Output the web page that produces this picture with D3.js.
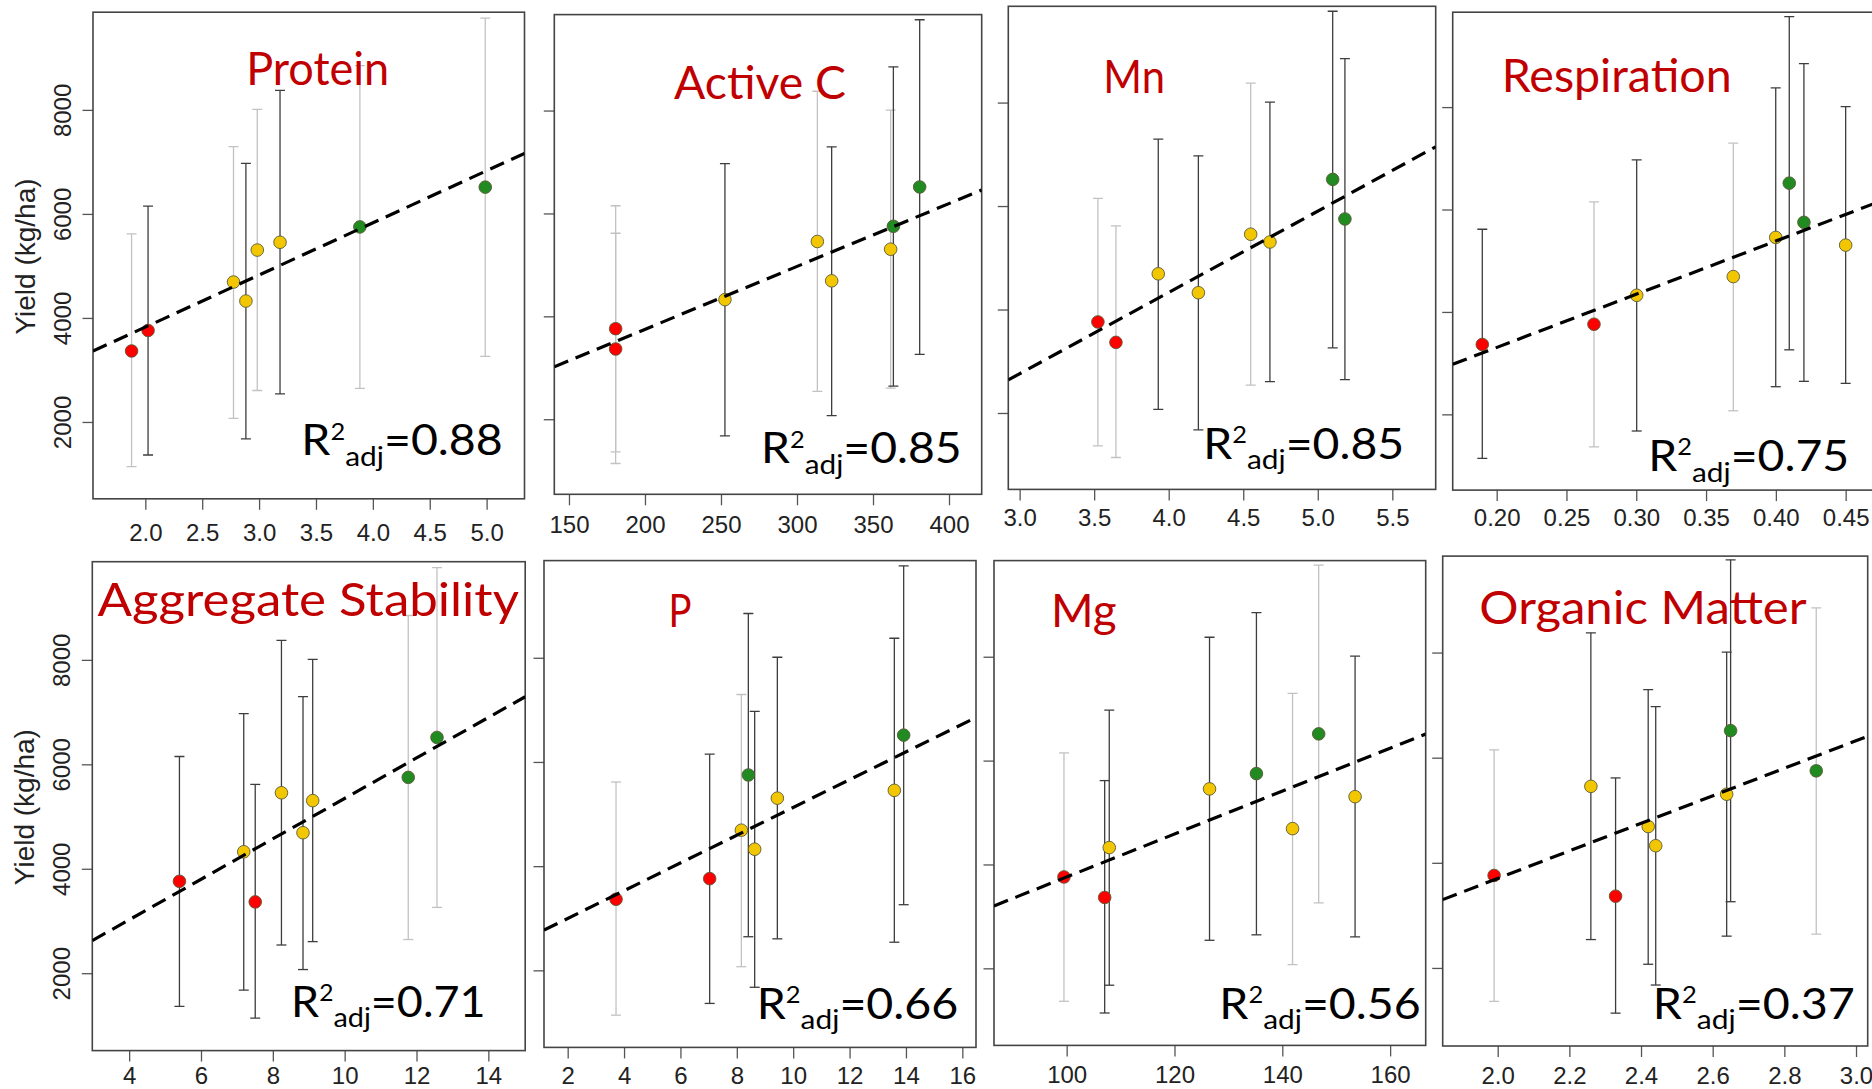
<!DOCTYPE html>
<html><head><meta charset="utf-8">
<script src="https://cdn.jsdelivr.net/npm/d3@7"></script>
<style>html,body{margin:0;padding:0;background:#fff;}svg{display:block;}</style>
</head><body>
<svg id="chart" width="1872" height="1089"></svg>
<script>
// ---------------- DATA ----------------
// eight sites (same yields in every panel): mean yield, lower and upper error bar (kg/ha)
const siteYield = [3365, 3760, 4690, 4325, 5305, 5455, 5750, 6515];
const siteLow   = [1140, 1365, 2070, 1675, 2605, 2540, 2645, 3260];
const siteHigh  = [5615, 6150, 7295, 6970, 8010, 8375, 8850, 9765];
const siteGroup = ["low", "low", "mid", "mid", "mid", "mid", "high", "high"];

const panelTitles = ["Protein", "Active C", "Mn", "Respiration", "Aggregate Stability", "P", "Mg", "Organic Matter"];
const r2Values = ["0.88", "0.85", "0.85", "0.75", "0.71", "0.66", "0.56", "0.37"];

// x value of each site in each panel (site order as above)
const xProtein     = [1.879, 2.024, 2.775, 2.884, 2.984, 3.184, 3.886, 4.988];
const xActiveC     = [180.7, 180.7, 322.8, 252.6, 361.6, 313.4, 363.4, 380.7];
const xMn          = [3.646, 3.525, 3.930, 4.199, 4.679, 4.550, 5.182, 5.100];
const xRespiration = [0.1897, 0.2697, 0.3695, 0.3003, 0.450, 0.3999, 0.4201, 0.4096];
const xAggregate   = [7.51, 5.40, 8.84, 7.19, 9.11, 8.24, 11.77, 12.57];
const xP           = [3.715, 7.037, 8.161, 8.634, 9.438, 13.588, 8.409, 13.919];
const xMg          = [107.05, 99.5, 141.9, 107.9, 153.5, 126.5, 135.2, 146.75];
const xOM          = [2.329, 1.990, 2.420, 2.441, 2.639, 2.260, 2.889, 2.650];
const panelX = [xProtein, xActiveC, xMn, xRespiration, xAggregate, xP, xMg, xOM];

// fitted regression line: yield = intercept + slope * x
const fitSlope     = [1002, 12.22, 1572, 10393, 387.4, 266.4, 41.31, 2621];
const fitIntercept = [1820, 1304, -1958, 1227, 1473, 2463, -372, -1540];

// axis ranges and ticks
const xDomains = [[1.540, 5.333], [140.35, 421.5], [2.924, 5.791], [0.1685, 0.4703],
                  [2.974, 15.026], [1.160, 16.485], [86.52, 166.6], [1.8465, 3.0326]];
const yDomains = [[523, 9878], [541, 9865], [523, 9861], [521, 9853],
                  [518, 9880], [521, 9865], [516, 9851], [515, 9835]];
const xTicks = [[2.0, 2.5, 3.0, 3.5, 4.0, 4.5, 5.0], [150, 200, 250, 300, 350, 400],
                [3.0, 3.5, 4.0, 4.5, 5.0, 5.5], [0.20, 0.25, 0.30, 0.35, 0.40, 0.45],
                [4, 6, 8, 10, 12, 14], [2, 4, 6, 8, 10, 12, 14, 16],
                [100, 120, 140, 160], [2.0, 2.2, 2.4, 2.6, 2.8, 3.0]];
const xTickFormats = [".1f", "d", ".1f", ".2f", "d", "d", "d", ".1f"];
const yTicks = [2000, 4000, 6000, 8000];
const yAxisTitle = "Yield (kg/ha)";

// ---------------- LAYOUT / STYLE ----------------
const layout = [
  {L: 93.0,   R: 524.5,  T: 12.2,  B: 498.8,  tcx: 317.7,  tby: 85.2,  tw: 143,   rx: 301.3,  rby: 455.3,  rw: 201.5, gap: 42,   ylab: true},
  {L: 554.3,  R: 981.7,  T: 14.6,  B: 494.3,  tcx: 760,    tby: 99.1,  tw: 172,   rx: 761,    rby: 463.3,  rw: 200.7, gap: 39,   ylab: false},
  {L: 1008.3, R: 1435.7, T: 6.3,   B: 489.4,  tcx: 1134.2, tby: 93.2,  tw: 61.7,  rx: 1203.3, rby: 458.8,  rw: 201,   gap: 37,   ylab: false},
  {L: 1452.7, R: 1874,   T: 12.2,  B: 490.1,  tcx: 1616.7, tby: 91.5,  tw: 230,   rx: 1648.3, rby: 471,    rw: 201,   gap: 35.5, ylab: false},
  {L: 92.3,   R: 525.2,  T: 561.7, B: 1050.6, tcx: 308.2,  tby: 616.1, tw: 421.5, rx: 291,    rby: 1016.9, rw: 194.6, gap: 33.5, ylab: true},
  {L: 544,    R: 976,    T: 560.6, B: 1047.4, tcx: 680,    tby: 626.5, tw: 23,    rx: 756.7,  rby: 1018.6, rw: 201.6, gap: 36.5, ylab: false},
  {L: 994,    R: 1425.7, T: 560.6, B: 1045.4, tcx: 1083.8, tby: 626.5, tw: 65.7,  rx: 1219.3, rby: 1018.6, rw: 201.4, gap: 38,   ylab: false},
  {L: 1442.7, R: 1867.7, T: 556.1, B: 1046,   tcx: 1643,   tby: 624.1, tw: 327.3, rx: 1652.7, rby: 1018.6, rw: 202.3, gap: 38,   ylab: false}
];
// which error bars look faint in each panel (antialiasing in the source screenshots)
const faintBars = [[0, 2, 4, 6, 7], [0, 1, 4, 5], [0, 1, 5], [1, 2], [6, 7], [0, 2], [1, 2, 7], [1, 6]];
const groupColor = {low: "#ff0000", mid: "#f2c600", high: "#218a21"};
const FONT_TXT = "Lato, 'Noto Sans', sans-serif";
const FONT_AX = "'Liberation Sans', Arial, Helvetica, sans-serif";
const AXIS_FS = 24;

const svg = d3.select("#chart");

panelTitles.forEach((title, p) => {
  const lay = layout[p];
  const x = d3.scaleLinear().domain(xDomains[p]).range([lay.L, lay.R]);
  const y = d3.scaleLinear().domain(yDomains[p]).range([lay.B, lay.T]);
  const g = svg.append("g");

  const clipId = "clip" + p;
  svg.append("clipPath").attr("id", clipId).append("rect")
    .attr("x", lay.L).attr("y", lay.T).attr("width", lay.R - lay.L).attr("height", lay.B - lay.T);

  // x axis
  const xa = g.append("g").attr("transform", `translate(0,${lay.B})`)
    .call(d3.axisBottom(x).tickValues(xTicks[p]).tickFormat(d3.format(xTickFormats[p]))
      .tickSize(11).tickPadding(lay.gap - 11 - 0.71 * AXIS_FS));
  xa.select(".domain").remove();
  xa.selectAll("line").attr("stroke", "#555").attr("stroke-width", 1.3);
  xa.selectAll("text").attr("font-family", FONT_AX).attr("font-size", AXIS_FS).attr("fill", "#222");

  // y axis
  const ya = g.append("g").attr("transform", `translate(${lay.L},0)`)
    .call(d3.axisLeft(y).tickValues(yTicks).tickFormat(lay.ylab ? d3.format("d") : () => "").tickSize(10.5));
  ya.select(".domain").remove();
  ya.selectAll("line").attr("stroke", "#555").attr("stroke-width", 1.3);
  ya.selectAll("text").attr("font-family", FONT_AX).attr("font-size", AXIS_FS).attr("fill", "#222")
    .attr("x", 0).attr("dy", 0).attr("text-anchor", "middle")
    .attr("transform", "translate(-22.4,0) rotate(-90)");
  if (lay.ylab) {
    g.append("text").attr("font-family", FONT_AX).attr("font-size", 28).attr("fill", "#222")
      .attr("text-anchor", "middle")
      .attr("transform", `translate(${lay.L - 58.5},${(lay.T + lay.B) / 2 + 1}) rotate(-90)`)
      .text(yAxisTitle);
  }

  // frame
  g.append("rect").attr("x", lay.L).attr("y", lay.T).attr("width", lay.R - lay.L).attr("height", lay.B - lay.T)
    .attr("fill", "none").attr("stroke", "#444").attr("stroke-width", 1.6);

  const sites = siteYield.map((v, i) => ({x: panelX[p][i], y: v, lo: siteLow[i], hi: siteHigh[i],
    grp: siteGroup[i], faint: faintBars[p].includes(i)}));

  // error bars
  const eb = g.append("g").attr("clip-path", `url(#${clipId})`);
  const bars = eb.selectAll("g.bar").data(sites).join("g")
    .attr("stroke", d => d.faint ? "#c2c2c2" : "#3d3d3d").attr("stroke-width", 1.3);
  bars.append("line").attr("x1", d => x(d.x)).attr("x2", d => x(d.x)).attr("y1", d => y(d.lo)).attr("y2", d => y(d.hi));
  bars.append("line").attr("x1", d => x(d.x) - 5).attr("x2", d => x(d.x) + 5).attr("y1", d => y(d.lo)).attr("y2", d => y(d.lo));
  bars.append("line").attr("x1", d => x(d.x) - 5).attr("x2", d => x(d.x) + 5).attr("y1", d => y(d.hi)).attr("y2", d => y(d.hi));

  // points
  g.append("g").selectAll("circle").data(sites).join("circle")
    .attr("cx", d => x(d.x)).attr("cy", d => y(d.y)).attr("r", 6.3)
    .attr("fill", d => groupColor[d.grp]).attr("stroke", "#5a5a3a").attr("stroke-width", 0.9);

  // regression line
  const xd = xDomains[p];
  const fit = xd.map(v => [v, fitIntercept[p] + fitSlope[p] * v]);
  g.append("path").attr("clip-path", `url(#${clipId})`)
    .attr("d", d3.line().x(d => x(d[0])).y(d => y(d[1]))(fit))
    .attr("fill", "none").attr("stroke", "#000").attr("stroke-width", 3.2).attr("stroke-dasharray", "15,8");

  // title
  g.append("text").attr("x", lay.tcx - lay.tw / 2).attr("y", lay.tby)
    .attr("font-family", FONT_TXT).attr("font-size", 46).attr("fill", "#c00000")
    .attr("textLength", lay.tw).attr("lengthAdjust", "spacingAndGlyphs")
    .text(title);

  // R^2 adj label
  const rg = g.append("g").attr("transform", `translate(${lay.rx},${lay.rby})`);
  const t = rg.append("text").attr("font-family", FONT_TXT).attr("fill", "#000");
  t.append("tspan").attr("font-size", 42).text("R");
  t.append("tspan").attr("font-size", 23).attr("dy", -15.6).text("2");
  t.append("tspan").attr("font-size", 27).attr("dy", 26.1).text("adj");
  t.append("tspan").attr("font-size", 42).attr("dy", -10.5).text("=" + r2Values[p]);
  const bb = t.node().getBBox();
  t.attr("transform", `scale(${lay.rw / bb.width},1) translate(${-bb.x},0)`);
});
</script>
</body></html>
